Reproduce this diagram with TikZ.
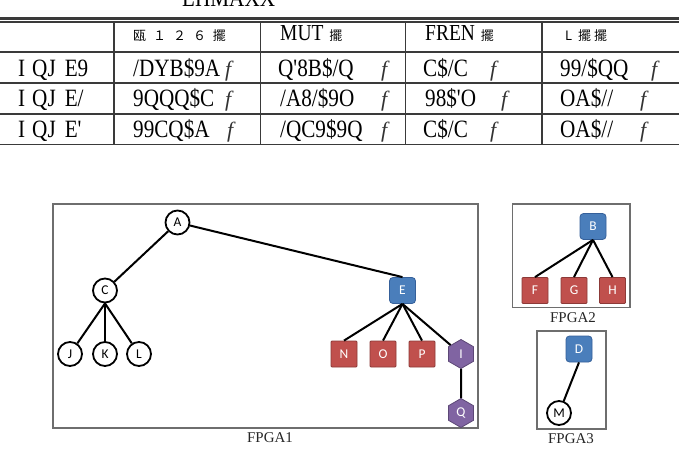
\documentclass[tikz,border=0pt]{standalone}
\usepackage{fontspec}
\setsansfont{Carlito}
\newfontfamily\cjk{Noto Sans CJK SC}
\newfontfamily\tabfont[FakeStretch=0.85]{Liberation Serif}
\newfontfamily\lblfont{Liberation Serif}
\usetikzlibrary{shapes.geometric}
\definecolor{blueF}{HTML}{4A7EBB}
\definecolor{blueD}{HTML}{35609A}
\definecolor{redF}{HTML}{C0504D}
\definecolor{redD}{HTML}{8C3A38}
\definecolor{purF}{HTML}{8064A2}
\definecolor{purD}{HTML}{5C4776}
\definecolor{boxgray}{HTML}{6E6E6E}
\definecolor{rulegray}{HTML}{3A3A3A}
\newcommand{\cj}[1]{{\cjk\fontsize{13}{13}\selectfont #1}}
\tikzset{
  circ/.style={circle, draw=black, line width=1.8bp, fill=white, minimum size=24bp, inner sep=0pt, font=\sffamily\fontsize{13.5}{13.5}\selectfont},
  sqnode/.style={minimum size=26bp, inner sep=0pt, text=white, line width=0.8bp, font=\sffamily\fontsize{13.5}{13.5}\selectfont},
  bluebox/.style={sqnode, rounded corners=3.5bp, fill=blueF, draw=blueD},
  redbox/.style={sqnode, rounded corners=1bp, fill=redF, draw=redD},
  hexa/.style={regular polygon, regular polygon sides=6, shape border rotate=30, minimum size=29bp, inner sep=0pt, fill=purF, draw=purD, line width=0.8bp, text=white, font=\sffamily\fontsize{13.5}{13.5}\selectfont},
  edge/.style={line width=2bp, black},
  fpga/.style={draw=boxgray, line width=1.8bp},
  lbl/.style={font=\lblfont\fontsize{15}{15}\selectfont, text=black!85},
  rl/.style={draw=rulegray, line width=1.5bp},
  cell/.style={anchor=base west, inner sep=0pt, font=\tabfont\fontsize{25}{25}\selectfont},
  fcell/.style={anchor=base west, inner sep=0pt, font=\lblfont\itshape\fontsize{22}{22}\selectfont, text=black!80},
  head/.style={anchor=base west, inner sep=0pt, font=\tabfont\fontsize{23}{23}\selectfont},
}
\begin{document}
\begin{tikzpicture}[x=1bp,y=-1bp]
\clip (0,0) rectangle (679,462);
\fill[white] (0,0) rectangle (679,462);

% title (cut off at top, as in the reference)
\node[cell] (title) at (182,6.5) {LHMAXX};

% table rules
\draw[rl, line width=2.2bp] (0,18.5) -- (679,18.5);
\draw[rl, line width=1.1bp] (0,22) -- (679,22);
\draw[rl] (0,52) -- (679,52);
\draw[rl] (0,83) -- (679,83);
\draw[rl] (0,114) -- (679,114);
\draw[rl] (0,144.5) -- (679,144.5);
\foreach \x in {114,260.5,405.5,542} \draw[rl] (\x,22) -- (\x,144.5);

% header
\node[head] (h1) at (133,41) {\cj{瓯\hspace{7bp}１\hspace{7bp}２\hspace{7bp}６\hspace{7bp}擺}};
\node[head] (h2) at (280,41) {MUT\hspace{6bp}\cj{擺}};
\node[head] (h3) at (425,41) {FREN\hspace{6bp}\cj{擺}};
\node[head] (h4) at (565,41) {\cj{L\hspace{6bp}擺\hspace{3bp}擺}};

% row labels
\node[cell] (r1) at (18,76.5) {I\hspace{7bp}QJ\hspace{9bp}E9};
\node[cell] (r2) at (18,107) {I\hspace{7bp}QJ\hspace{9bp}E/};
\node[cell] (r3) at (18,137.5) {I\hspace{7bp}QJ\hspace{9bp}E'};

% row 1
\node[cell] at (133,76.5) {/DYB\$9A};
\node[fcell] at (225,76.5) {f};
\node[cell] at (278,76.5) {Q'8B\$/Q};
\node[fcell] at (381,76.5) {f};
\node[cell] at (423,76.5) {C\$/C};
\node[fcell] at (490,76.5) {f};
\node[cell] at (560,76.5) {99/\$QQ};
\node[fcell] at (651,76.5) {f};
% row 2
\node[cell] at (133,107) {9QQQ\$C};
\node[fcell] at (225,107) {f};
\node[cell] at (280,107) {/A8/\$9O};
\node[fcell] at (381,107) {f};
\node[cell] at (425,107) {98\$'O};
\node[fcell] at (501,107) {f};
\node[cell] at (560,107) {OA\$//};
\node[fcell] at (640,107) {f};
% row 3
\node[cell] at (133,137.5) {99CQ\$A};
\node[fcell] at (227,137.5) {f};
\node[cell] at (280,137.5) {/QC9\$9Q};
\node[fcell] at (381,137.5) {f};
\node[cell] at (423,137.5) {C\$/C};
\node[fcell] at (490,137.5) {f};
\node[cell] at (560,137.5) {OA\$//};
\node[fcell] at (640,137.5) {f};

% FPGA boxes
\draw[fpga] (53,204) rectangle (478,428);
\node[lbl] (l1) at (270,437.5) {FPGA1};
\draw[fpga] (512.5,204) rectangle (630,307.5);
\node[lbl] (l2) at (573,317.5) {FPGA2};
\draw[fpga] (537,331) rectangle (606,429);
\node[lbl] (l3) at (571,438.5) {FPGA3};

% FPGA1 nodes
\node[circ] (A) at (177.5,222.5) {A};
\node[circ] (C) at (105,290.5) {C};
\node[circ] (J) at (70,354) {J};
\node[circ] (K) at (105,354) {K};
\node[circ] (L) at (139,354) {L};
\node[bluebox] (E) at (402.5,290.5) {E};
\node[redbox] (N) at (344,354) {N};
\node[redbox] (O) at (383,354) {O};
\node[redbox] (P) at (422,354) {P};
\node[hexa] (I) at (461,354) {I};
\node[hexa] (Q) at (461,413) {Q};

\draw[edge] (A) -- (C);
\draw[edge] (A) -- (E.north);
\draw[edge] (C.south) -- (J);
\draw[edge] (C.south) -- (K);
\draw[edge] (C.south) -- (L);
\draw[edge] (E.south) -- (N.north);
\draw[edge] (E.south) -- (O.north);
\draw[edge] (E.south) -- (P.north);
\draw[edge] (E.south) -- (I);
\draw[edge] (I) -- (Q);

% FPGA2 nodes
\node[bluebox] (B) at (593,226.5) {B};
\node[redbox] (F) at (535,290.5) {F};
\node[redbox] (G) at (574,290.5) {G};
\node[redbox] (H) at (612.5,290.5) {H};
\draw[edge] (B.south) -- (F.north);
\draw[edge] (B.south) -- (G.north);
\draw[edge] (B.south) -- (H.north);

% FPGA3 nodes
\node[bluebox] (D) at (579,349) {D};
\node[circ] (M) at (559,413) {M};
\draw[edge] (D.south) -- (M);
\end{tikzpicture}
\end{document}
